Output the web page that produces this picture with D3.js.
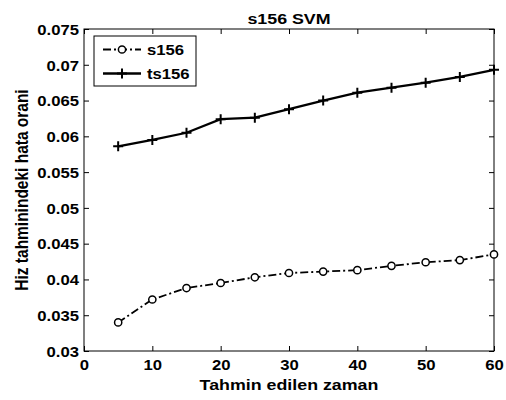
<!DOCTYPE html>
<html>
<head>
<meta charset="utf-8">
<script src="https://cdn.jsdelivr.net/npm/d3@7"></script>
<style>
  body { margin: 0; background: #fff; }
  svg { display: block; }
  text { font-family: "Liberation Sans", Arial, sans-serif; font-weight: bold; fill: #000; }
  .axis text { font-size: 14.5px; }
  .axis line { stroke: #000; }
</style>
</head>
<body>
<div></div>
<script>
// data
var times = [5, 10, 15, 20, 25, 30, 35, 40, 45, 50, 55, 60];
var s156 = [0.0340, 0.0372, 0.0388, 0.0395, 0.0403, 0.0409, 0.0411, 0.0413, 0.0419, 0.0424, 0.0427, 0.0435];
var ts156 = [0.0586, 0.0595, 0.0605, 0.0624, 0.0626, 0.0638, 0.0650, 0.0661, 0.0668, 0.0675, 0.0683, 0.0693];
var xTicks = [0, 10, 20, 30, 40, 50, 60];
var yTicks = [0.03, 0.035, 0.04, 0.045, 0.05, 0.055, 0.06, 0.065, 0.07, 0.075];
var seriesNames = ["s156", "ts156"];

// the original picture is a bit wider than tall, so text is stretched sideways
var sx = 1.15;

var margin = {top: 29, right: 12, bottom: 49, left: 84},
    width = 506 - margin.left - margin.right,
    height = 400 - margin.top - margin.bottom;

var x = d3.scaleLinear().domain([0, 60]).range([0, width]);
var y = d3.scaleLinear().domain([0.03, 0.075]).range([height, 0]);

var svg = d3.select("body").select("div").append("svg")
    .attr("width", 506)
    .attr("height", 400);

var g = svg.append("g")
    .attr("transform", "translate(" + margin.left + "," + margin.top + ")");

// axes with inward ticks
g.append("g")
    .attr("class", "axis")
    .attr("transform", "translate(0," + height + ")")
    .call(d3.axisBottom(x).tickValues(xTicks).tickSize(-5).tickPadding(8))
    .call(function(a) {
      a.select(".domain").remove();
      a.selectAll("text").attr("y", 19).attr("dy", null).attr("transform", "scale(" + sx + ",1)");
    });

g.append("g")
    .attr("class", "axis")
    .call(d3.axisLeft(y).tickValues(yTicks).tickSize(-5).tickPadding(5)
      .tickFormat(function(d) { return String(d); }))
    .call(function(a) {
      a.select(".domain").remove();
      a.selectAll("text").attr("x", -5 / sx).attr("dy", "0.36em").attr("transform", "scale(" + sx + ",1)");
    });

g.append("g")
    .attr("class", "axis")
    .call(d3.axisTop(x).tickValues(xTicks).tickSize(-5).tickFormat(""))
    .call(function(a) { a.select(".domain").remove(); });

g.append("g")
    .attr("class", "axis")
    .attr("transform", "translate(" + width + ",0)")
    .call(d3.axisRight(y).tickValues(yTicks).tickSize(-5).tickFormat(""))
    .call(function(a) { a.select(".domain").remove(); });

g.append("rect")
    .attr("width", width)
    .attr("height", height)
    .attr("fill", "none")
    .attr("stroke", "#000")
    .attr("stroke-width", 1);

var line = d3.line()
    .x(function(d, i) { return x(times[i]); })
    .y(function(d) { return y(d); });

// s156: dash-dot with circles
g.append("path")
    .datum(s156)
    .attr("d", line)
    .attr("fill", "none")
    .attr("stroke", "#000")
    .attr("stroke-width", 1.8)
    .attr("stroke-dasharray", "8,3,2,3");

g.selectAll(".circ")
    .data(s156)
  .enter().append("circle")
    .attr("class", "circ")
    .attr("cx", function(d, i) { return x(times[i]); })
    .attr("cy", function(d) { return y(d); })
    .attr("r", 3.6)
    .attr("fill", "#fff")
    .attr("stroke", "#000")
    .attr("stroke-width", 1.5);

// ts156: solid with plus
g.append("path")
    .datum(ts156)
    .attr("d", line)
    .attr("fill", "none")
    .attr("stroke", "#000")
    .attr("stroke-width", 2.3);

g.selectAll(".plus")
    .data(ts156)
  .enter().append("path")
    .attr("class", "plus")
    .attr("transform", function(d, i) { return "translate(" + x(times[i]) + "," + y(d) + ")"; })
    .attr("d", "M-5,0H5M0,-5V5")
    .attr("stroke", "#000")
    .attr("stroke-width", 2);

// legend
var leg = svg.append("g").attr("transform", "translate(94,36)");
leg.append("rect")
    .attr("width", 102)
    .attr("height", 50)
    .attr("fill", "#fff")
    .attr("stroke", "#000")
    .attr("stroke-width", 1);

var rows = leg.selectAll(".row")
    .data(seriesNames)
  .enter().append("g")
    .attr("class", "row")
    .attr("transform", function(d, i) { return "translate(0," + (13.5 + i * 24) + ")"; });

rows.append("line")
    .attr("x1", 9).attr("x2", 47)
    .attr("stroke", "#000")
    .attr("stroke-width", function(d, i) { return i ? 2.3 : 1.8; })
    .attr("stroke-dasharray", function(d, i) { return i ? null : "8,3,2,3"; });

rows.filter(function(d, i) { return i === 0; })
  .append("circle")
    .attr("cx", 28).attr("r", 3.6)
    .attr("fill", "#fff").attr("stroke", "#000").attr("stroke-width", 1.5);

rows.filter(function(d, i) { return i === 1; })
  .append("path")
    .attr("d", "M23,0H33M28,-5V5")
    .attr("stroke", "#000").attr("stroke-width", 2);

rows.append("text")
    .attr("transform", "translate(53,0) scale(" + sx + ",1)")
    .attr("dy", "0.36em")
    .style("font-size", "14.5px")
    .text(function(d) { return d; });

// titles
svg.append("text")
    .attr("transform", "translate(" + (margin.left + width / 2) + ",24) scale(" + sx + ",1)")
    .attr("text-anchor", "middle")
    .style("font-size", "15.5px")
    .text("s156 SVM");

svg.append("text")
    .attr("transform", "translate(" + (margin.left + width / 2) + ",390) scale(" + sx + ",1)")
    .attr("text-anchor", "middle")
    .style("font-size", "15.5px")
    .text("Tahmin edilen zaman");

svg.append("text")
    .attr("transform", "translate(28," + (margin.top + height / 2) + ") scale(" + sx + ",1) rotate(-90)")
    .attr("text-anchor", "middle")
    .style("font-size", "15.5px")
    .text("Hiz tahminindeki hata orani");
</script>
</body>
</html>
